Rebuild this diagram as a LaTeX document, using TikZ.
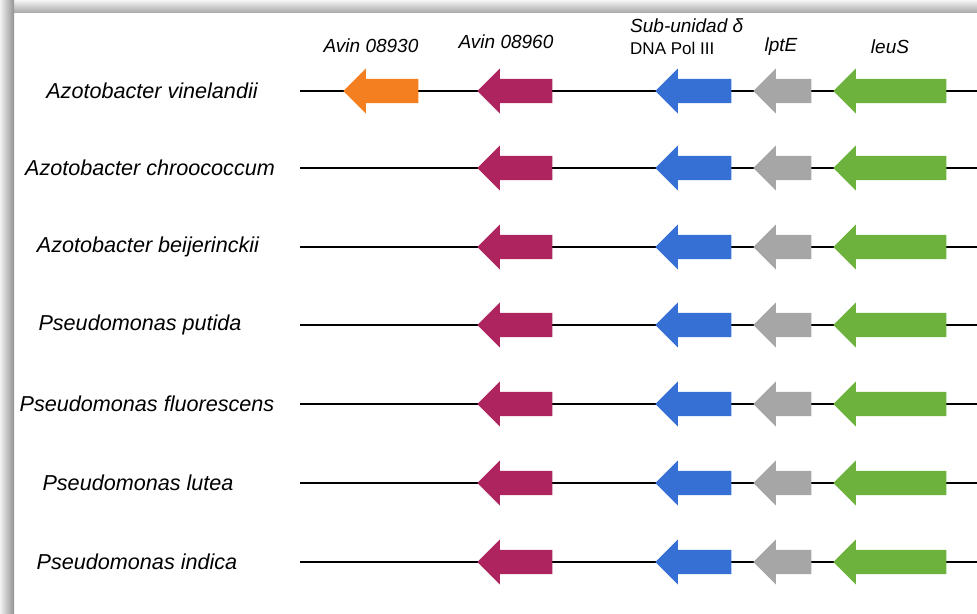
\documentclass[tikz,border=0pt]{standalone}
\usepackage{fontspec}
\setmainfont{Liberation Sans}
\usetikzlibrary{shapes.arrows,positioning}
\definecolor{orfA}{RGB}{244,127,32}
\definecolor{orfB}{RGB}{173,36,94}
\definecolor{orfC}{RGB}{55,112,212}
\definecolor{orfD}{RGB}{166,166,166}
\definecolor{orfE}{RGB}{108,178,60}
\tikzstyle{backbone} = [line width=1.6pt,black]

\begin{document}
\begin{tikzpicture} [
    x=1pt,y=-1pt,
    gene/.style={single arrow,shape border rotate=180,draw=none,
      inner xsep=0pt,inner ysep=12pt,single arrow head extend=10.5pt,anchor=tip},
    species/.style={font=\fontsize{21.6}{24}\selectfont\itshape,inner sep=0pt},
    header/.style={font=\fontsize{19}{22}\selectfont\itshape,inner sep=0pt},
    ]

    \useasboundingbox (0,0) rectangle (977,613);
    % frame
    \shade[top color=gray!8,bottom color=gray!65] (0,0) rectangle (977,12);
    \shade[left color=gray!10,right color=gray!85] (0,0) rectangle (14,613);

    % gene names
    \node [header] (h1) at (371,46) {Avin 08930};
    \node [header] (h2) at (506,42) {Avin 08960};
    \node [header,anchor=west] (h3) at (630,26) {Sub-unidad δ};
    \path (h3.south west) ++(0,9) node [anchor=north west,inner sep=0pt,
      font=\fontsize{17}{20}\selectfont] (h3b) {DNA Pol III};
    \node [header] (h4) at (781,47) {lptE};
    \node [header] (h5) at (890,47) {leuS};

    % one row per strain
    \foreach \y/\cx/\n/\name in {91/152/av/{Azotobacter vinelandii},
        168/150/ac/{Azotobacter chroococcum},
        247/148/ab/{Azotobacter beijerinckii},
        325/140/pp/{Pseudomonas putida},
        404/147/pf/{Pseudomonas fluorescens},
        483/138/pl/{Pseudomonas lutea},
        562/137/pi/{Pseudomonas indica}} {
      \node [species] (\n) at (\cx,\y) {\name};
      \coordinate (\n-start) at (300,\y);
      \coordinate (\n-end) at (977,\y);
      \draw [backbone] (\n-start) -- (\n-end);
      \node [gene,fill=orfB,minimum height=75pt] (\n-b) at (477,\y) {};
      \node [gene,fill=orfC,minimum height=76pt] (\n-c) at (655,\y) {};
      \node [gene,fill=orfD,minimum height=58pt] (\n-d) at (753,\y) {};
      \node [gene,fill=orfE,minimum height=113pt] (\n-e) at (833,\y) {};
    }
    \node [gene,fill=orfA,minimum height=75pt] (av-a) at (343,91) {};
\end{tikzpicture}
\end{document}
